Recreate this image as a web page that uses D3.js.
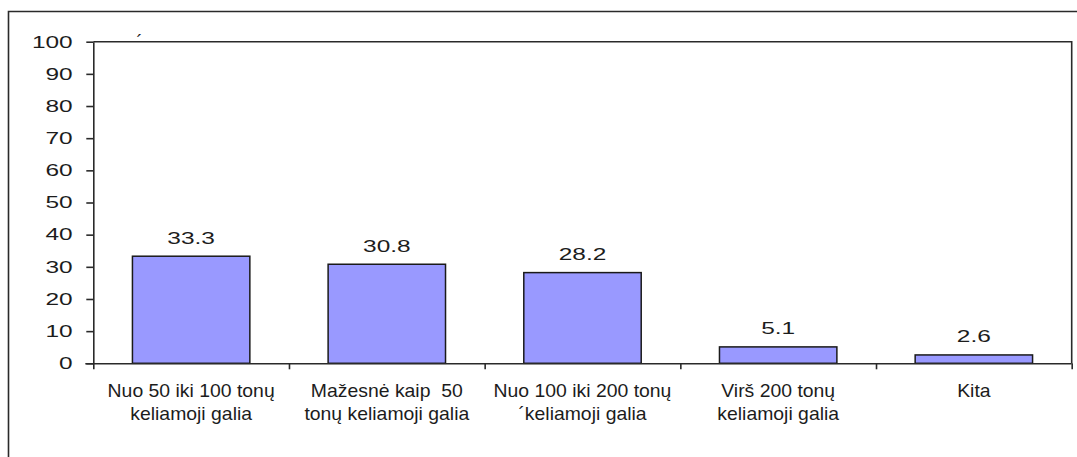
<!DOCTYPE html>
<html>
<head>
<meta charset="utf-8">
<script src="https://cdn.jsdelivr.net/npm/d3@7/dist/d3.min.js"></script>
<style>
  html, body { margin: 0; padding: 0; background: #fff; }
  svg { display: block; }
  text { font-family: "Liberation Sans", Arial, sans-serif; fill: #1c1c1c; white-space: pre; }
</style>
</head>
<body>
<svg id="chart" width="1077" height="457"></svg>
<script>
// Shares by lifting capacity, %
const categories = [
  ["Nuo 50 iki 100 tonų", "keliamoji galia"],
  ["Mažesnė kaip  50", "tonų keliamoji galia"],
  ["Nuo 100 iki 200 tonų", "´keliamoji galia"],
  ["Virš 200 tonų", "keliamoji galia"],
  ["Kita"]
];
const values = [33.3, 30.8, 28.2, 5.1, 2.6];
const yTicks = [0, 10, 20, 30, 40, 50, 60, 70, 80, 90, 100];

const W = 1077, H = 457;
const plot = { left: 93.3, right: 1071.7, top: 41.7, bottom: 363.3 };
const lineColor = "#2a2a2a";

const svg = d3.select("#chart");

const x = d3.scaleBand()
  .domain(d3.range(categories.length))
  .range([plot.left, plot.right])
  .paddingInner(0.4)
  .paddingOuter(0.2);

const y = d3.scaleLinear().domain([0, 100]).range([plot.bottom, plot.top]);

// outer chart frame (left and top edges visible)
svg.append("path")
  .attr("d", `M8.5,${H} L8.5,11.5 L${W},11.5`)
  .attr("fill", "none").attr("stroke", lineColor).attr("stroke-width", 1.6);

// plot area border: top and right
svg.append("path")
  .attr("d", `M${plot.left},${plot.top} L${plot.right},${plot.top} L${plot.right},${plot.bottom}`)
  .attr("fill", "none").attr("stroke", lineColor).attr("stroke-width", 1.6);

// bars
svg.append("g").selectAll("rect")
  .data(values)
  .join("rect")
  .attr("x", (d, i) => x(i))
  .attr("width", x.bandwidth())
  .attr("y", d => y(d))
  .attr("height", d => y(0) - y(d))
  .attr("fill", "#9999ff")
  .attr("stroke", "#1a1a1a")
  .attr("stroke-width", 1.5);

// y axis
const yAxis = d3.axisLeft(y).tickValues(yTicks).tickSize(7).tickSizeOuter(0).tickFormat("");
const gy = svg.append("g").attr("transform", `translate(${plot.left},0)`).call(yAxis);
gy.selectAll("path, line").attr("stroke", lineColor).attr("stroke-width", 1.6);

// y tick labels (wide bitmap-style digits)
svg.append("g").selectAll("g")
  .data(yTicks)
  .join("g")
  .attr("transform", d => `translate(72.7,${y(d) + 5.8}) scale(1.5,1)`)
  .append("text")
  .attr("text-anchor", "end")
  .attr("font-size", 16.3)
  .text(d => d);

// x axis with ticks at the category boundaries
const step = x.step();
const boundaries = d3.range(categories.length + 1).map(k => plot.left + k * step);
const xb = d3.scaleLinear().domain([plot.left, plot.right]).range([plot.left, plot.right]);
const xAxis = d3.axisBottom(xb).tickValues(boundaries).tickSize(6).tickSizeOuter(0).tickFormat("");
const gx = svg.append("g").attr("transform", `translate(0,${plot.bottom})`).call(xAxis);
gx.select("path.domain").attr("d", `M${plot.left - 8},0.5H${plot.right}`);
gx.selectAll("path, line").attr("stroke", lineColor).attr("stroke-width", 1.6);

// value labels above bars
svg.append("g").selectAll("g")
  .data(values)
  .join("g")
  .attr("transform", (d, i) => `translate(${x(i) + x.bandwidth() / 2},${y(d) - 12.7}) scale(1.5,1)`)
  .append("text")
  .attr("text-anchor", "middle")
  .attr("font-size", 16.3)
  .text(d => d.toFixed(1));

// category labels
const catG = svg.append("g").selectAll("g")
  .data(categories)
  .join("g")
  .attr("transform", (d, i) => `translate(${x(i) + x.bandwidth() / 2},396.5) scale(1.06,1)`);
catG.selectAll("text")
  .data(d => d)
  .join("text")
  .attr("text-anchor", "middle")
  .attr("font-size", 18.3)
  .attr("y", (d, j) => j * 23.5)
  .text(d => d);

// small stray accent mark near the top of the plot
svg.append("text")
  .attr("x", 139.5).attr("y", 48)
  .attr("text-anchor", "middle")
  .attr("font-size", 18)
  .text("´");
</script>
</body>
</html>
